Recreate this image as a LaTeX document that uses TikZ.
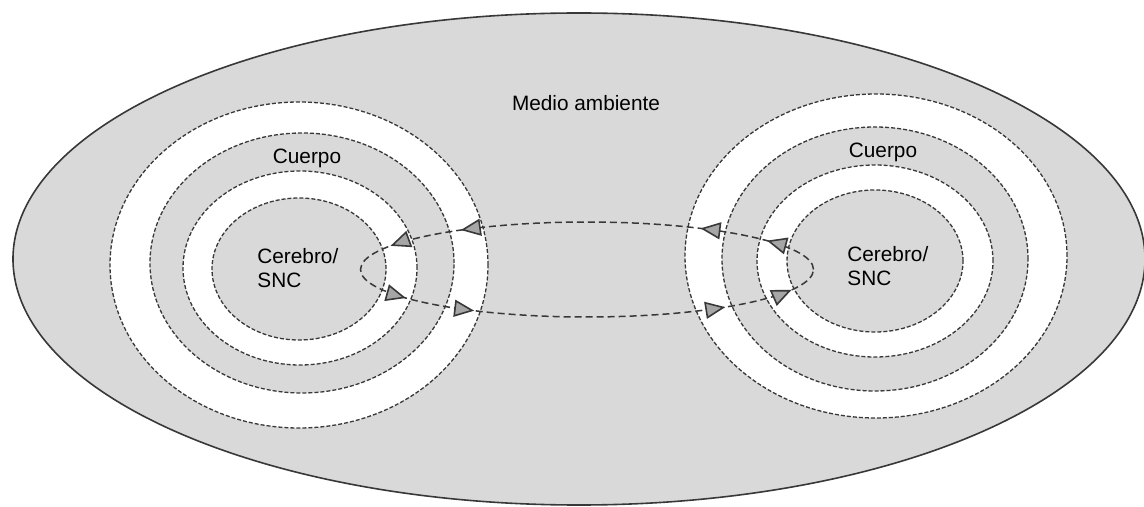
\documentclass[tikz,border=0pt]{standalone}
\usepackage{fontspec}
\setmainfont{Liberation Sans}
\usetikzlibrary{shapes.geometric,arrows.meta,decorations.markings}

\definecolor{envgray}{HTML}{D9D9D9}
\definecolor{linegray}{HTML}{383838}
\definecolor{tipgray}{HTML}{A6A6A6}

\tikzset{flowtip/.tip={Triangle[length=10pt,width=8.5pt,line width=0.8pt,fill=tipgray]}}

\begin{document}
\begin{tikzpicture}[x=0.5pt,y=-0.5pt,
    ring/.style={draw=linegray,ellipse,inner sep=0pt,line width=0.65pt,
      dash pattern=on 2pt off 1pt},
    lbl/.style={inner sep=0pt,align=left,font=\fontsize{10.4}{11.6}\selectfont}]
    \useasboundingbox (0,0) rectangle (1144,507);

    \node[draw=linegray,ellipse,fill=envgray,line width=0.8pt,minimum
    width=566pt,minimum height=246pt] (env) at (579,259) {};

    % left person
    \node[ring,fill=white,minimum width=189pt,minimum height=163pt] (bodyL) at
    (299,265) {};
    \node[ring,fill=envgray,minimum width=152pt,minimum height=130pt] (skinL) at
    (302,263) {};
    \node[ring,fill=white,minimum width=117pt,minimum height=97pt] (nerveL) at
    (300,268) {};
    \node[ring,fill=envgray,minimum width=87pt,minimum height=71pt] (brainL) at
    (299,269) {};

    % right person
    \node[ring,fill=white,minimum width=191pt,minimum height=162pt] (bodyR) at
    (876,256) {};
    \node[ring,fill=envgray,minimum width=153pt,minimum height=132pt] (skinR) at
    (875,259) {};
    \node[ring,fill=white,minimum width=118pt,minimum height=96pt] (nerveR) at
    (875,261) {};
    \node[ring,fill=envgray,minimum width=88pt,minimum height=71pt] (brainR) at
    (875,261) {};

    \node[lbl] (envtext) at (586,103) {Medio ambiente};
    \node[lbl] (bodyLtext) at (307,158) {Cuerpo};
    \node[lbl,anchor=west] (brainLtext) at (257,268) {Cerebro/\\SNC};
    \node[lbl] (bodyRtext) at (883,152) {Cuerpo};
    \node[lbl,anchor=west] (brainRtext) at (847,266) {Cerebro/\\SNC};

    % exchange loop
    \draw[draw=linegray,line width=0.75pt,dash pattern=on 3.5pt off 2pt,
      postaction={decorate},decoration={markings,
        mark=at position 0.0602 with {\arrow{flowtip}},
        mark=at position 0.1309 with {\arrow{flowtip}},
        mark=at position 0.3824 with {\arrow{flowtip}},
        mark=at position 0.4579 with {\arrow{flowtip}},
        mark=at position 0.5589 with {\arrow{flowtip}},
        mark=at position 0.6316 with {\arrow{flowtip}},
        mark=at position 0.8952 with {\arrow{flowtip}},
        mark=at position 0.9670 with {\arrow{flowtip}}}]
      (587,269.5) ellipse [x radius=113.25pt,y radius=23.75pt];
\end{tikzpicture}
\end{document}
